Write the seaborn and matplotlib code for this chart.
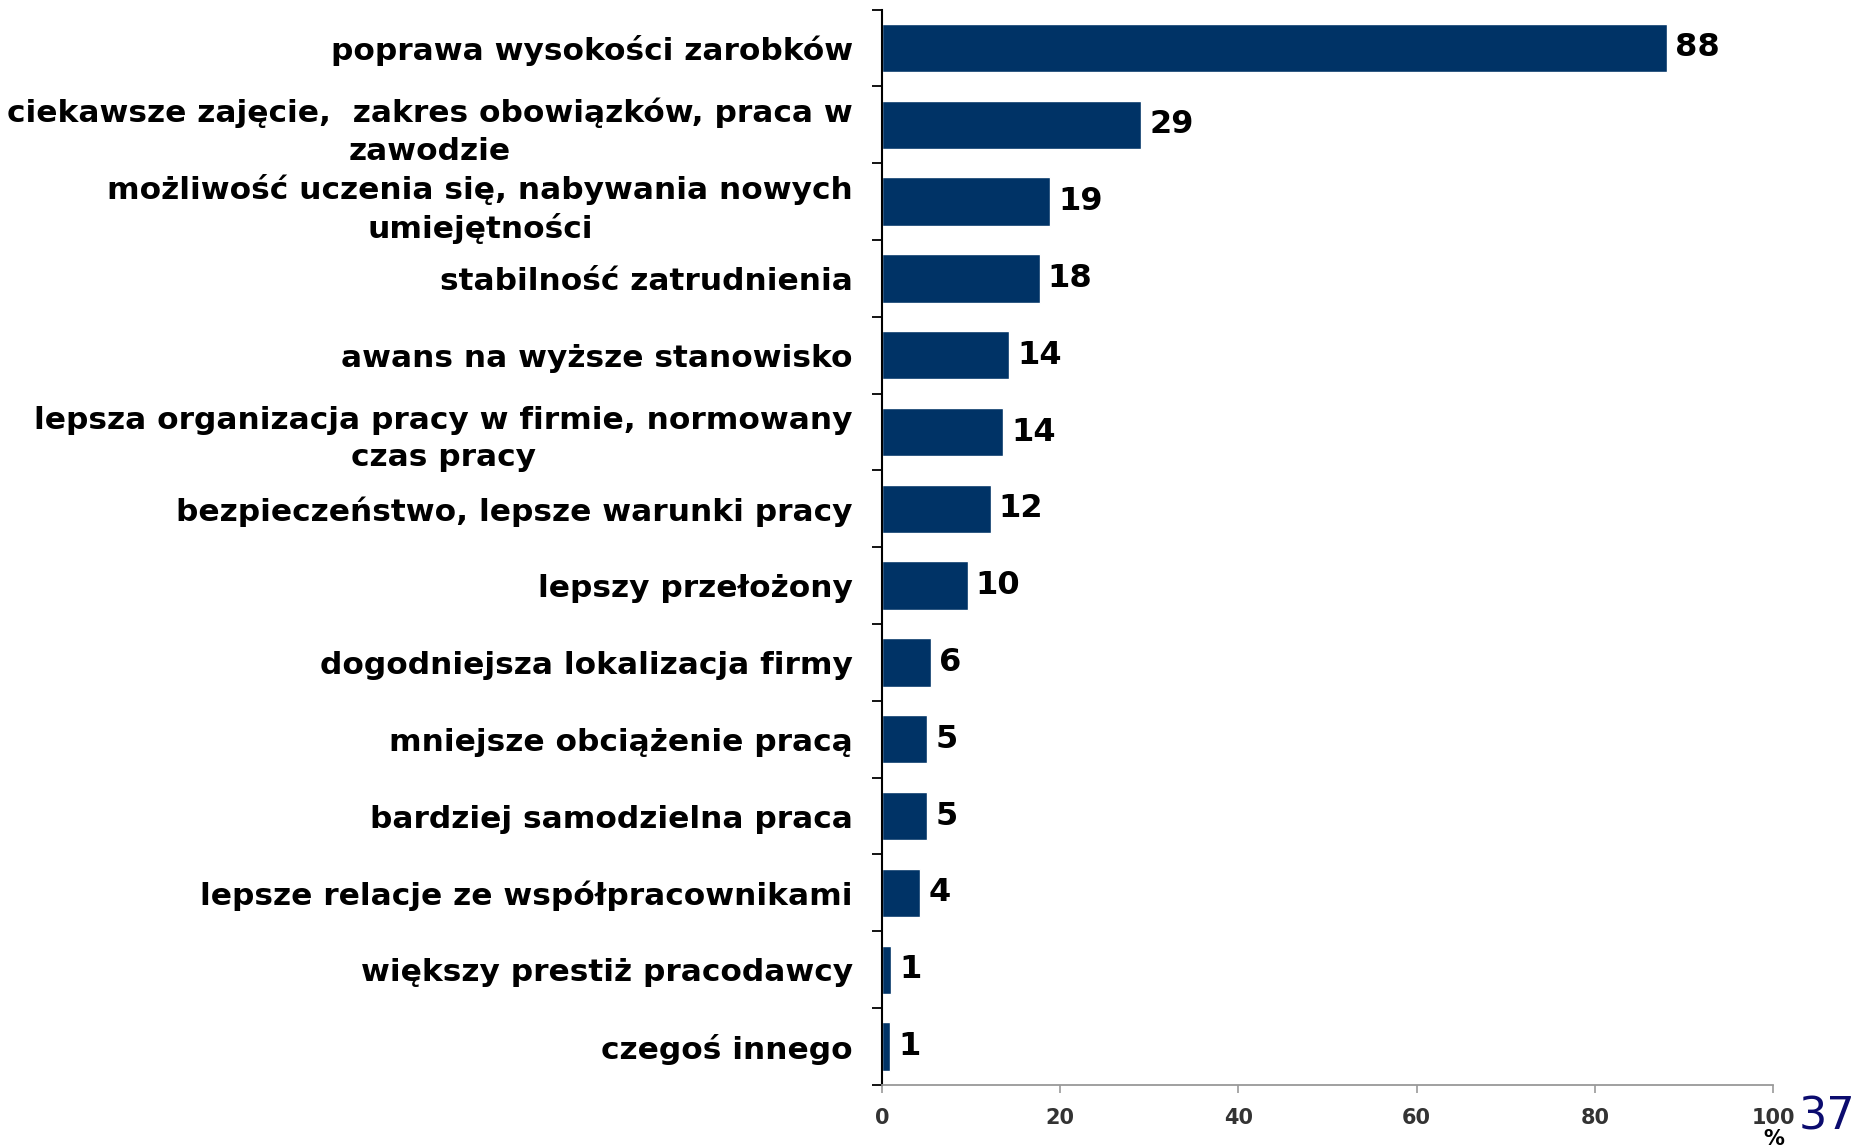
import numpy as np
import pandas as pd
import seaborn as sns
import matplotlib.pyplot as plt

# data
categories = [
    'poprawa wysokości zarobków',
    'ciekawsze zajęcie,  zakres obowiązków, praca w\nzawodzie',
    'możliwość uczenia się, nabywania nowych\numiejętności',
    'stabilność zatrudnienia',
    'awans na wyższe stanowisko',
    'lepsza organizacja pracy w firmie, normowany\nczas pracy',
    'bezpieczeństwo, lepsze warunki pracy',
    'lepszy przełożony',
    'dogodniejsza lokalizacja firmy',
    'mniejsze obciążenie pracą',
    'bardziej samodzielna praca',
    'lepsze relacje ze współpracownikami',
    'większy prestiż pracodawcy',
    'czegoś innego',
]
values = [88.1, 29.1, 18.9, 17.7, 14.3, 13.6, 12.2, 9.6, 5.5, 5.1, 5.1, 4.3, 1.0, 0.9]
value_labels = ['88', '29', '19', '18', '14', '14', '12', '10', '6', '5', '5', '4', '1', '1']
xticks = [0, 20, 40, 60, 80, 100]

df = pd.DataFrame({'cat': categories, 'val': values})

sns.set_style('white')
plt.rcParams['font.family'] = ['DejaVu Sans']
plt.rcParams['text.color'] = 'black'

fig = plt.figure(figsize=(18.58, 11.47), dpi=100)
ax = fig.add_axes([0.4747, 0.0541, 0.4796, 0.9376])

sns.barplot(data=df, x='val', y='cat', orient='h', color='#003366',
            saturation=1, width=0.63, ax=ax)

# value labels to the right of the bars
for i, (v, lab) in enumerate(zip(values, value_labels)):
    ax.text(v + 0.9, i, lab, va='center', ha='left', fontsize=23,
            fontweight='bold', color='black')

ax.set_xlim(0, 100)
ax.set_ylim(len(categories) - 0.5, -0.5)
ax.set_xlabel('')
ax.set_ylabel('')

# y axis: labels at centres, ticks at category boundaries
ax.set_yticks(range(len(categories)))
ax.set_yticklabels(categories, fontsize=22.5, fontweight='bold', color='black')
for t in ax.get_yticklabels():
    t.set_multialignment('center')
    t.set_linespacing(1.35)
ax.tick_params(axis='y', which='major', length=0, pad=21)
ax.set_yticks(np.arange(-0.5, len(categories), 1), minor=True)
ax.tick_params(axis='y', which='minor', length=7.5, width=1.3, color='black', left=True)

# x axis
ax.set_xticks(xticks)
ax.set_xticklabels([str(x) for x in xticks], fontsize=15, fontweight='bold', color='#333333')
ax.tick_params(axis='x', length=5.5, width=1.2, color='#999999', bottom=True, pad=11)

for s in ['top', 'right']:
    ax.spines[s].set_visible(False)
ax.spines['left'].set_color('black')
ax.spines['left'].set_linewidth(1.5)
ax.spines['bottom'].set_color('#999999')
ax.spines['bottom'].set_linewidth(1.3)

fig.text(1774 / 1858, 1 - 1139 / 1147, '%', ha='center', va='center',
         fontsize=15, fontweight='bold', color='black')
fig.text(1855 / 1858, 1 - 1117 / 1147, '37', ha='right', va='center',
         fontsize=32, color='#0b0b6e', family=['Liberation Sans Narrow', 'DejaVu Sans'])

fig.savefig('out.png', dpi=100)
